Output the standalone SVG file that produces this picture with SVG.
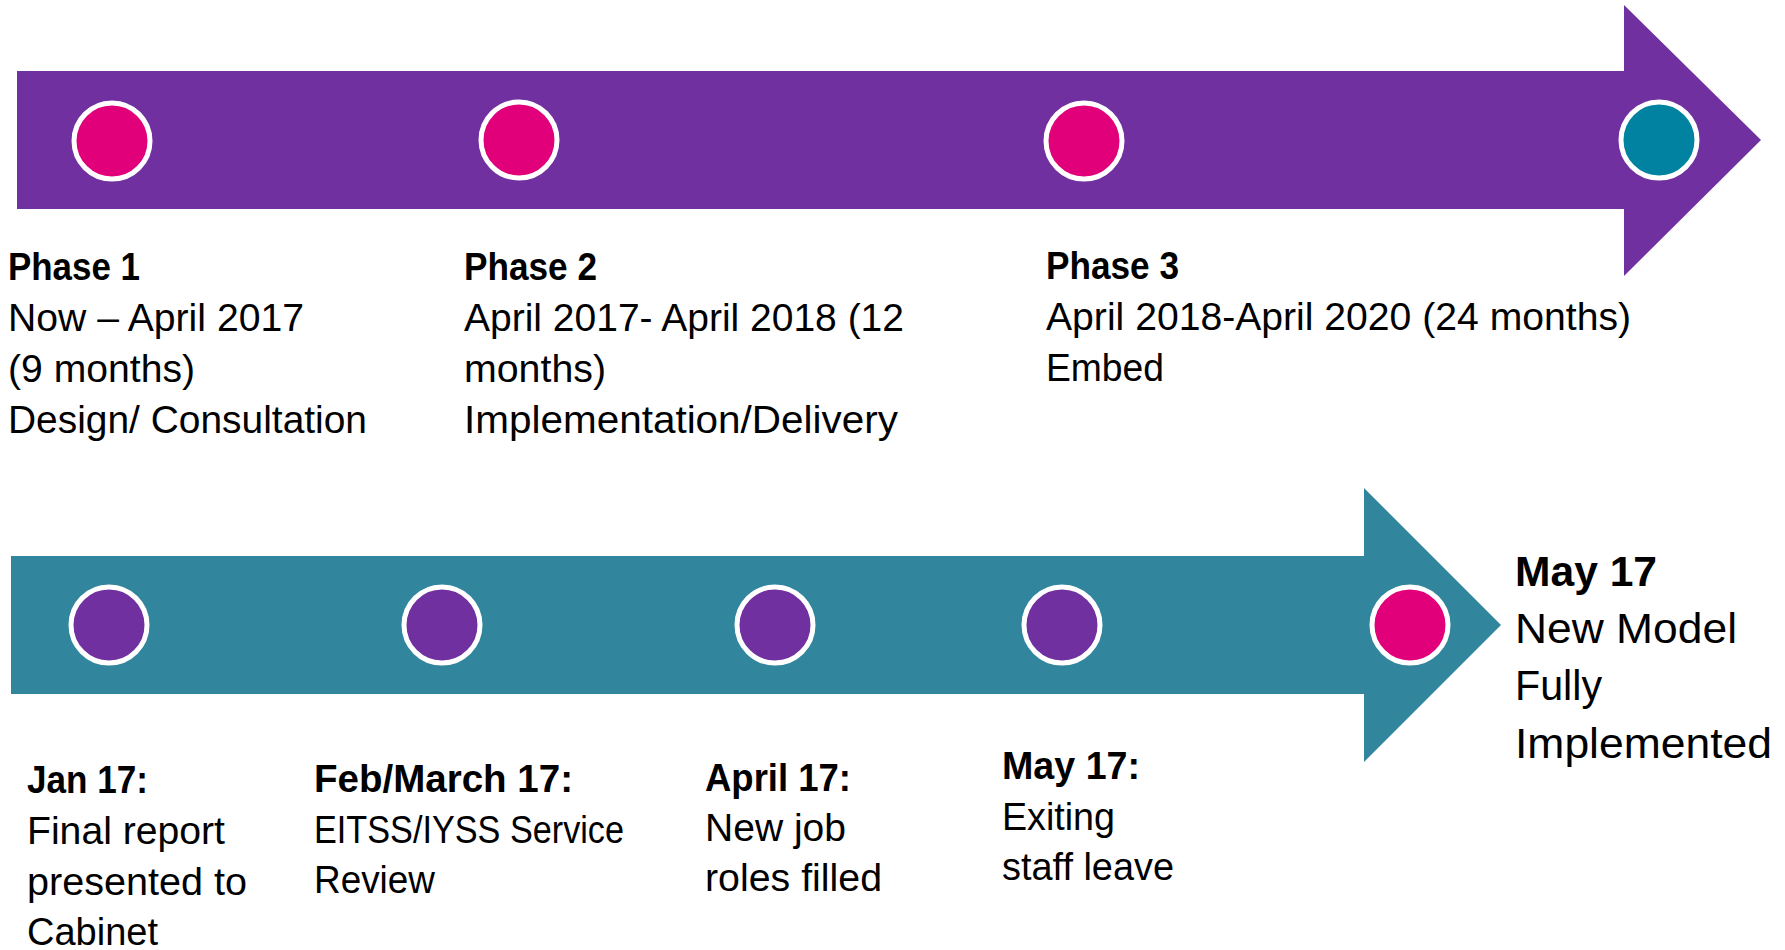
<svg xmlns="http://www.w3.org/2000/svg" width="1785" height="950" viewBox="0 0 1785 950">
<style>
text{font-family:"Liberation Sans",Arial,sans-serif;fill:#000}
.t{font-size:38px}
.b{font-size:38px;font-weight:bold}
.tl{font-size:42px}
.bl{font-size:42px;font-weight:bold}
.dot{stroke:#fff;stroke-width:5}
.pink{fill:#E2007A}
.purp{fill:#7030A0}
.teal{fill:#0082A0}
</style>
<rect width="1785" height="950" fill="#fff"/>
<g id="connectors">
<polygon id="arrow-top" fill="#7030A0" points="17,71 1624,71 1624,5 1761,140 1624,276 1624,209 17,209"/>
<polygon id="arrow-bottom" fill="#31869D" points="11,556 1364,556 1364,488 1501,625 1364,762 1364,694 11,694"/>
</g>
<g id="phase1">
<circle class="dot pink" cx="112" cy="141" r="38"/>
<text class="b" x="8" y="280" textLength="132" lengthAdjust="spacingAndGlyphs">Phase 1</text>
<text class="t" x="8" y="331" textLength="296" lengthAdjust="spacingAndGlyphs">Now – April 2017</text>
<text class="t" x="8" y="382" textLength="187" lengthAdjust="spacingAndGlyphs">(9 months)</text>
<text class="t" x="8" y="433" textLength="359" lengthAdjust="spacingAndGlyphs">Design/ Consultation</text>
</g>
<g id="phase2">
<circle class="dot pink" cx="519" cy="140" r="38"/>
<text class="b" x="464" y="280" textLength="133" lengthAdjust="spacingAndGlyphs">Phase 2</text>
<text class="t" x="464" y="331" textLength="440" lengthAdjust="spacingAndGlyphs">April 2017- April 2018 (12</text>
<text class="t" x="464" y="382" textLength="142" lengthAdjust="spacingAndGlyphs">months)</text>
<text class="t" x="464" y="433" textLength="434" lengthAdjust="spacingAndGlyphs">Implementation/Delivery</text>
</g>
<g id="phase3">
<circle class="dot pink" cx="1084" cy="141" r="38"/>
<text class="b" x="1046" y="279" textLength="133" lengthAdjust="spacingAndGlyphs">Phase 3</text>
<text class="t" x="1046" y="330" textLength="585" lengthAdjust="spacingAndGlyphs">April 2018-April 2020 (24 months)</text>
<text class="t" x="1046" y="381" textLength="118" lengthAdjust="spacingAndGlyphs">Embed</text>
</g>
<g id="end-top">
<circle class="dot teal" cx="1659" cy="140" r="38"/>
</g>
<g id="jan17">
<circle class="dot purp" cx="109" cy="625" r="38"/>
<text class="b" x="27" y="793" textLength="121" lengthAdjust="spacingAndGlyphs">Jan 17:</text>
<text class="t" x="27" y="844" textLength="198" lengthAdjust="spacingAndGlyphs">Final report</text>
<text class="t" x="27" y="895" textLength="220" lengthAdjust="spacingAndGlyphs">presented to</text>
<text class="t" x="27" y="945" textLength="131" lengthAdjust="spacingAndGlyphs">Cabinet</text>
</g>
<g id="febmar17">
<circle class="dot purp" cx="442" cy="625" r="38"/>
<text class="b" x="314" y="792" textLength="259" lengthAdjust="spacingAndGlyphs">Feb/March 17:</text>
<text class="t" x="314" y="843" textLength="310" lengthAdjust="spacingAndGlyphs">EITSS/IYSS Service</text>
<text class="t" x="314" y="893" textLength="121" lengthAdjust="spacingAndGlyphs">Review</text>
</g>
<g id="apr17">
<circle class="dot purp" cx="775" cy="625" r="38"/>
<text class="b" x="705" y="791" textLength="146" lengthAdjust="spacingAndGlyphs">April 17:</text>
<text class="t" x="705" y="841" textLength="141" lengthAdjust="spacingAndGlyphs">New job</text>
<text class="t" x="705" y="891" textLength="177" lengthAdjust="spacingAndGlyphs">roles filled</text>
</g>
<g id="may17">
<circle class="dot purp" cx="1062" cy="625" r="38"/>
<text class="b" x="1002" y="779" textLength="138" lengthAdjust="spacingAndGlyphs">May 17:</text>
<text class="t" x="1002" y="830" textLength="113" lengthAdjust="spacingAndGlyphs">Exiting</text>
<text class="t" x="1002" y="880" textLength="172" lengthAdjust="spacingAndGlyphs">staff leave</text>
</g>
<g id="end-bottom">
<circle class="dot pink" cx="1410" cy="625" r="38"/>
<text class="bl" x="1515" y="586" textLength="142" lengthAdjust="spacingAndGlyphs">May 17</text>
<text class="tl" x="1515" y="643" textLength="222" lengthAdjust="spacingAndGlyphs">New Model</text>
<text class="tl" x="1515" y="700" textLength="87" lengthAdjust="spacingAndGlyphs">Fully</text>
<text class="tl" x="1515" y="758" textLength="257" lengthAdjust="spacingAndGlyphs">Implemented</text>
</g>
</svg>
